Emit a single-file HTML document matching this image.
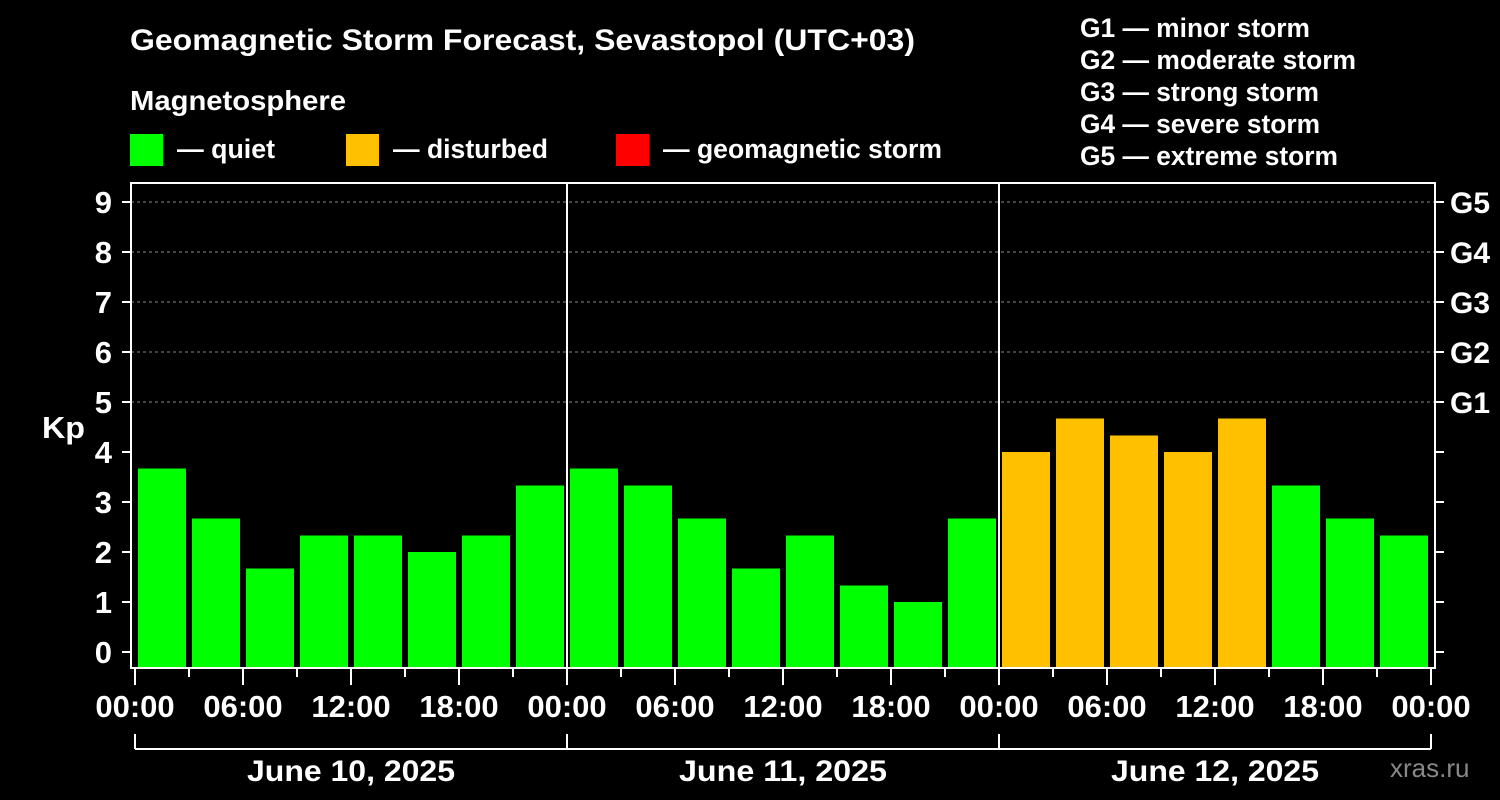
<!DOCTYPE html>
<html><head><meta charset="utf-8"><style>
body{margin:0;background:#000;}
svg{display:block;font-family:"Liberation Sans",Arial,sans-serif;font-weight:bold;}
</style></head><body>
<svg id="c" width="1500" height="800" viewBox="0 0 1500 800">
<text x="130" y="50" fill="#fff" font-size="30" textLength="785" lengthAdjust="spacingAndGlyphs">Geomagnetic Storm Forecast, Sevastopol (UTC+03)</text>
<text x="130" y="110" fill="#fff" font-size="28" textLength="216" lengthAdjust="spacingAndGlyphs">Magnetosphere</text>
<g><rect x="130" y="134" width="33" height="32" fill="#00ff00"/><text x="177" y="158" fill="#fff" font-size="27" textLength="98" lengthAdjust="spacingAndGlyphs">— quiet</text></g>
<g><rect x="346" y="134" width="33" height="32" fill="#ffc000"/><text x="393" y="158" fill="#fff" font-size="27" textLength="155" lengthAdjust="spacingAndGlyphs">— disturbed</text></g>
<g><rect x="616" y="134" width="33" height="32" fill="#ff0000"/><text x="663" y="158" fill="#fff" font-size="27" textLength="279" lengthAdjust="spacingAndGlyphs">— geomagnetic storm</text></g>
<g fill="#fff" font-size="26.5">
<text x="1080" y="37" textLength="230" lengthAdjust="spacingAndGlyphs">G1 — minor storm</text>
<text x="1080" y="69" textLength="276" lengthAdjust="spacingAndGlyphs">G2 — moderate storm</text>
<text x="1080" y="101" textLength="239" lengthAdjust="spacingAndGlyphs">G3 — strong storm</text>
<text x="1080" y="133" textLength="240" lengthAdjust="spacingAndGlyphs">G4 — severe storm</text>
<text x="1080" y="165" textLength="258" lengthAdjust="spacingAndGlyphs">G5 — extreme storm</text>
</g>
<text x="42" y="438" fill="#fff" font-size="31" textLength="43" lengthAdjust="spacingAndGlyphs">Kp</text>
<text x="1390" y="777" fill="#888" font-size="26" font-weight="normal">xras.ru</text>
<g id="plot"></g>
</svg>
<script>
const days=["June 10, 2025","June 11, 2025","June 12, 2025"];
const kp=[3.67,2.67,1.67,2.33,2.33,2.0,2.33,3.33, 3.67,3.33,2.67,1.67,2.33,1.33,1.0,2.67, 4.0,4.67,4.33,4.0,4.67,3.33,2.67,2.33];
const status=["q","q","q","q","q","q","q","q","q","q","q","q","q","q","q","q","d","d","d","d","d","q","q","q"];
const yTicks=[0,1,2,3,4,5,6,7,8,9];
const gLabels=["G1","G2","G3","G4","G5"];
const xLabels=["00:00","06:00","12:00","18:00"];
const NS="http://www.w3.org/2000/svg";
const g=document.getElementById('plot');
const L=135,slot=54,plotTop=183,plotBot=668;
const y=v=>652-v*50;
const x=i=>L+i*slot;
function el(t,a,p){const e=document.createElementNS(NS,t);for(const k in a)e.setAttribute(k,a[k]);(p||g).appendChild(e);return e;}
for(let v=5;v<=9;v++){const ln=el('line',{x1:131,x2:1435,y1:y(v),y2:y(v),stroke:'#888','stroke-dasharray':'3,3','stroke-width':1});

}
kp.forEach((v,i)=>{const r=el('rect',{x:x(i)+3,y:y(v),width:48,height:plotBot-y(v),fill:status[i]=="d"?"#ffc000":status[i]=="s"?"#ff0000":"#00ff00"});

});
const f=el('rect',{x:131,y:plotTop,width:1304,height:plotBot-plotTop,fill:'none',stroke:'#fff','stroke-width':2});


[1,2].forEach(d=>{const s=el('line',{x1:x(d*8),x2:x(d*8),y1:plotTop,y2:plotBot,stroke:'#fff','stroke-width':2});

});
yTicks.forEach(v=>{
el('line',{x1:122,x2:131,y1:y(v),y2:y(v),stroke:'#fff','stroke-width':2});
el('line',{x1:1435,x2:1444,y1:y(v),y2:y(v),stroke:'#fff','stroke-width':2});
const t=el('text',{x:112,y:y(v)+11,fill:'#fff','font-size':31,'text-anchor':'end'});t.textContent=v;

});
gLabels.forEach((l,i)=>{const t=el('text',{x:1450,y:y(5+i)+11,fill:'#fff','font-size':30});t.textContent=l;

});
for(let i=0;i<=24;i++){const major=i%2==0;el('line',{x1:x(i),x2:x(i),y1:plotBot,y2:major?685:677,stroke:'#fff','stroke-width':2});
if(major){const t=el('text',{x:x(i),y:717,fill:'#fff','font-size':31,'text-anchor':'middle'});t.textContent=xLabels[(i/2)%4];

}}
days.forEach((d,k)=>{const a=x(k*8),b=x(k*8+8);
el('line',{x1:a,x2:b,y1:749,y2:749,stroke:'#fff','stroke-width':2});
el('line',{x1:a,x2:a,y1:734,y2:749,stroke:'#fff','stroke-width':2});
el('line',{x1:b,x2:b,y1:734,y2:749,stroke:'#fff','stroke-width':2});
const t=el('text',{x:(a+b)/2,y:781,fill:'#fff','font-size':30,'text-anchor':'middle',textLength:208,lengthAdjust:'spacingAndGlyphs'});t.textContent=d;

});
</script>
</body></html>
